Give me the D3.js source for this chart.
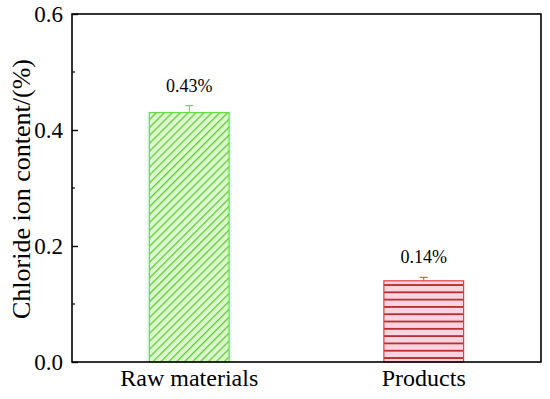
<!DOCTYPE html>
<html>
<head>
<meta charset="utf-8">
<script src="https://cdn.jsdelivr.net/npm/d3@7"></script>
<style>
body{margin:0;background:#fff;}
text{font-family:"Liberation Serif","Times New Roman",serif;fill:#000;}
</style>
</head>
<body>
<div id="chart"></div>
<script>
// data
const categories = ['Raw materials', 'Products'];
const values = [0.43, 0.14];
const errors = [0.012, 0.006];
const valueLabels = ['0.43%', '0.14%'];
const yTicks = [0.0, 0.2, 0.4, 0.6];
const yMinorTicks = [0.1, 0.3, 0.5];

const margin = {top:14, right:9, bottom:37, left:72};
const W = 550, H = 399;
const width = W - margin.left - margin.right;
const height = H - margin.top - margin.bottom;

const svg = d3.select('#chart').append('svg')
  .attr('width', W).attr('height', H);

const defs = svg.append('defs');
// green diagonal hatch
const pg = defs.append('pattern')
  .attr('id','hatchGreen').attr('patternUnits','userSpaceOnUse')
  .attr('width',5.6).attr('height',5.6)
  .attr('patternTransform','rotate(45)');
pg.append('rect').attr('width',5.6).attr('height',5.6).attr('fill','#dcf8d0');
pg.append('line').attr('x1',0).attr('y1',0).attr('x2',0).attr('y2',5.6)
  .attr('stroke','#62cc30').attr('stroke-width',2.6);
// red horizontal lines
const pr = defs.append('pattern')
  .attr('id','hatchRed').attr('patternUnits','userSpaceOnUse')
  .attr('width',10).attr('height',7.3);
pr.append('rect').attr('width',10).attr('height',7.3).attr('fill','#ffd4e2');
pr.append('line').attr('x1',0).attr('y1',0.9).attr('x2',10).attr('y2',0.9)
  .attr('stroke','#b8302a').attr('stroke-width',1.8);

const fills = ['url(#hatchGreen)', 'url(#hatchRed)'];
const strokes = ['#66dd44', '#e0403a'];
const errColors = ['#66cc44', '#c0502a'];

const g = svg.append('g').attr('transform', `translate(${margin.left},${margin.top})`);

const x = d3.scaleBand().domain(categories).range([0, width])
  .paddingInner(0.66).paddingOuter(0.33);
const y = d3.scaleLinear().domain([0, 0.6]).range([height, 0]);

// faint halo around the green bar
g.append('rect')
  .attr('x', x(categories[0]) - 3)
  .attr('y', y(values[0]) - 1)
  .attr('width', x.bandwidth() + 6)
  .attr('height', height - y(values[0]) + 1)
  .attr('fill', '#e6fbf6');

// bars
g.selectAll('.bar').data(values).join('rect')
  .attr('class','bar')
  .attr('x', (d,i) => x(categories[i]))
  .attr('y', d => y(d))
  .attr('width', x.bandwidth())
  .attr('height', d => height - y(d))
  .attr('fill', (d,i) => fills[i])
  .attr('stroke', (d,i) => strokes[i])
  .attr('stroke-width', 1.2);

// error bars + value labels
values.forEach((v,i) => {
  const cx = x(categories[i]) + x.bandwidth()/2;
  g.append('line').attr('x1',cx).attr('x2',cx)
    .attr('y1',y(v)).attr('y2',y(v+errors[i]))
    .attr('stroke',errColors[i]).attr('stroke-width',1);
  g.append('line').attr('x1',cx-4).attr('x2',cx+4)
    .attr('y1',y(v+errors[i])).attr('y2',y(v+errors[i]))
    .attr('stroke',errColors[i]).attr('stroke-width',1);
  g.append('text')
    .attr('x',cx).attr('y',y(v+errors[i]) - 14)
    .attr('text-anchor','middle')
    .style('font-size','18px')
    .text(valueLabels[i]);
});

// frame
g.append('rect').attr('width',width).attr('height',height)
  .attr('fill','none').attr('stroke','#000').attr('stroke-width',1.6);

// y axis
const yAxis = g.append('g')
  .call(d3.axisLeft(y).tickValues(yTicks).tickFormat(d3.format('.1f'))
    .tickSize(-6).tickPadding(9));
yAxis.select('.domain').remove();
yAxis.selectAll('.tick line').attr('stroke','#000').attr('stroke-width',1.4);
yAxis.selectAll('.tick text').style('font-size','23px')
  .style('font-family','"Liberation Serif",serif');
g.selectAll('.minor').data(yMinorTicks).join('line')
  .attr('class','minor')
  .attr('x1',0).attr('x2',3)
  .attr('y1',d => y(d)).attr('y2',d => y(d))
  .attr('stroke','#000').attr('stroke-width',1.2);

// x axis labels
const xAxis = g.append('g').attr('transform',`translate(0,${height})`)
  .call(d3.axisBottom(x).tickSize(0).tickPadding(7));
xAxis.select('.domain').remove();
xAxis.selectAll('.tick text').style('font-size','24px')
  .style('font-family','"Liberation Serif",serif');

// y label
svg.append('text')
  .attr('transform',`translate(30,${margin.top + height/2 + 1}) rotate(-90)`)
  .attr('text-anchor','middle')
  .style('font-size','26px')
  .text('Chloride ion content/(%)');
</script>
</body>
</html>
